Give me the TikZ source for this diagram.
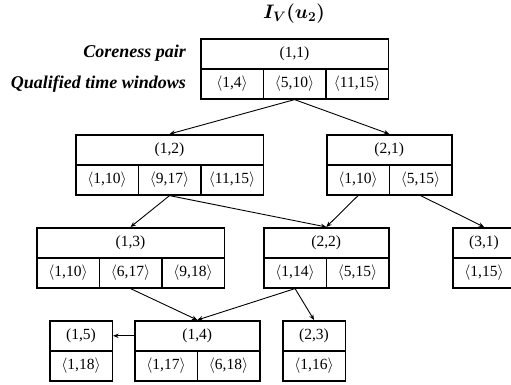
\RequirePackage{fix-cm}
\documentclass[tikz,border=0pt]{standalone}
\usepackage{amsmath,bm}
\usepackage{fontspec}
\setmainfont{Liberation Serif}
\usetikzlibrary{arrows.meta}
\tikzset{
  boxpart/.style={draw=black, line width=1.6pt, inner sep=0pt, anchor=north west,
    minimum height=30pt, font=\fontsize{15.5}{17}\selectfont},
  hdr/.style={boxpart},
  cell/.style={boxpart, minimum width=62.5pt},
  lbl/.style={anchor=east, inner sep=0pt, font=\fontsize{18}{20}\selectfont\bfseries\itshape},
  conn/.style={line width=0.9pt, -{Stealth[length=5.5pt,width=4.5pt]}},
}
\newcommand{\tw}[2]{$\langle$#1,#2$\rangle$}
\begin{document}
\begin{tikzpicture}[x=1pt,y=-1pt]
\useasboundingbox (0,0) rectangle (511,385);
\clip (0,0) rectangle (511,385);
% title
\node[font=\fontsize{19.5}{21}\selectfont\boldmath] (title) at (294,14) {$I_V(u_2)$};
% labels
\node[lbl] (lcp) at (186,53) {Coreness pair};
\node[lbl] (lqt) at (186,84) {Qualified time windows};
% root (1,1)
\node[hdr, minimum width=187.5pt] (h11) at (200,38) {(1,1)};
\node[cell] (c11a) at (200,68) {\tw{1}{4}};
\node[cell] (c11b) at (262.5,68) {\tw{5}{10}};
\node[cell] (c11c) at (325,68) {\tw{11}{15}};
% (1,2)
\node[hdr, minimum width=187.5pt] (h12) at (75,134) {(1,2)};
\node[cell] (c12a) at (75,164) {\tw{1}{10}};
\node[cell] (c12b) at (137.5,164) {\tw{9}{17}};
\node[cell] (c12c) at (200,164) {\tw{11}{15}};
% (2,1)
\node[hdr, minimum width=125pt] (h21) at (326,134) {(2,1)};
\node[cell] (c21a) at (326,164) {\tw{1}{10}};
\node[cell] (c21b) at (388.5,164) {\tw{5}{15}};
% (1,3)
\node[hdr, minimum width=187.5pt] (h13) at (36,227) {(1,3)};
\node[cell] (c13a) at (36,257) {\tw{1}{10}};
\node[cell] (c13b) at (98.5,257) {\tw{6}{17}};
\node[cell] (c13c) at (161,257) {\tw{9}{18}};
% (2,2)
\node[hdr, minimum width=125pt] (h22) at (263,227) {(2,2)};
\node[cell] (c22a) at (263,257) {\tw{1}{14}};
\node[cell] (c22b) at (325.5,257) {\tw{5}{15}};
% (3,1)
\node[hdr, minimum width=62.5pt] (h31) at (452,227) {(3,1)};
\node[cell] (c31a) at (452,257) {\tw{1}{15}};
% (1,5)
\node[hdr, minimum width=62.5pt] (h15) at (49,320) {(1,5)};
\node[cell] (c15a) at (49,350) {\tw{1}{18}};
% (1,4)
\node[hdr, minimum width=125pt] (h14) at (134,320) {(1,4)};
\node[cell] (c14a) at (134,350) {\tw{1}{17}};
\node[cell] (c14b) at (196.5,350) {\tw{6}{18}};
% (2,3)
\node[hdr, minimum width=62.5pt] (h23) at (282,320) {(2,3)};
\node[cell] (c23a) at (282,350) {\tw{1}{16}};
% connectors
\draw[conn] (c11b.south) -- (h12.north);
\draw[conn] (c11b.south) -- (h21.north);
\draw[conn] (c12b.south) -- (h13.north);
\draw[conn] (c12b.south) -- (h22.north);
\draw[conn] (c21a.south) -- (h22.north);
\draw[conn] (c21b.south) -- (h31.north);
\draw[conn] (c13b.south) -- (h14.north);
\draw[conn] (c22a.south) -- (h14.north);
\draw[conn] (c22a.south) -- (h23.north);
\draw[conn] (h14.west) -- (h15.east);
\end{tikzpicture}
\end{document}
